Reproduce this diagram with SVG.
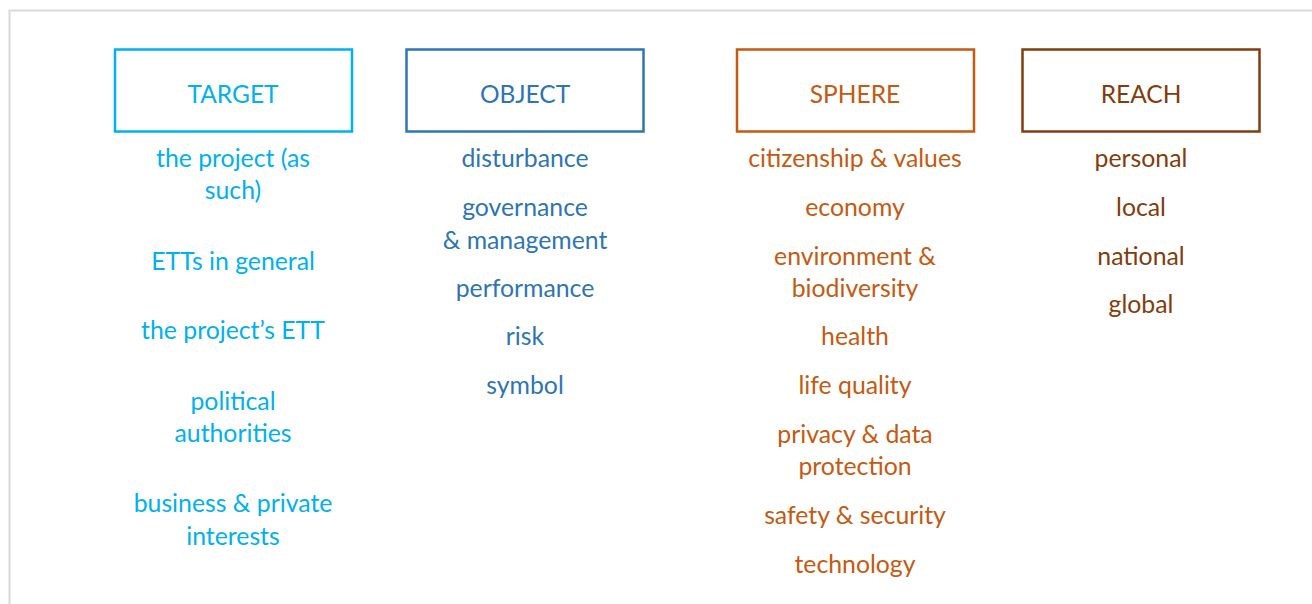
<svg xmlns="http://www.w3.org/2000/svg" width="1312" height="604" viewBox="0 0 1312 604">
<style>
text{font-family:Lato,"Open Sans","Liberation Sans",sans-serif;text-anchor:middle;font-size:24.8px}
.h{font-size:24.5px}
.box{fill:#fff;stroke-width:2.5}
.t{fill:#00B0F0}.o{fill:#2E75B6}.s{fill:#C55A11}.r{fill:#843C0C}
</style>
<rect x="0" y="0" width="1312" height="604" fill="#fff"/>
<path d="M9.5 604 V10.5 H1312" fill="none" stroke="#d9d9d9" stroke-width="2"/>
<g id="target">
<rect class="box" x="115" y="49.5" width="237" height="82" stroke="#00B0F0"/>
<text class="h t" x="233" y="103">TARGET</text>
<text class="t" x="233" y="167">the project (as</text>
<text class="t" x="233" y="199">such)</text>
<text class="t" x="233" y="270">ETTs in general</text>
<text class="t" x="233" y="339">the project’s ETT</text>
<text class="t" x="233" y="410">political</text>
<text class="t" x="233" y="442">authorities</text>
<text class="t" x="233" y="512">business &amp; private</text>
<text class="t" x="233" y="545">interests</text>
</g>
<g id="object">
<rect class="box" x="406.5" y="49.5" width="237" height="82" stroke="#2E75B6"/>
<text class="h o" x="525" y="103">OBJECT</text>
<text class="o" x="525" y="167">disturbance</text>
<text class="o" x="525" y="216">governance</text>
<text class="o" x="525" y="249">&amp; management</text>
<text class="o" x="525" y="297">performance</text>
<text class="o" x="525" y="345">risk</text>
<text class="o" x="525" y="394">symbol</text>
</g>
<g id="sphere">
<rect class="box" x="737" y="49.5" width="237" height="82" stroke="#C55A11"/>
<text class="h s" x="855" y="103">SPHERE</text>
<text class="s" x="855" y="167">citizenship &amp; values</text>
<text class="s" x="855" y="216">economy</text>
<text class="s" x="855" y="265">environment &amp;</text>
<text class="s" x="855" y="297">biodiversity</text>
<text class="s" x="855" y="345">health</text>
<text class="s" x="855" y="394">life quality</text>
<text class="s" x="855" y="443">privacy &amp; data</text>
<text class="s" x="855" y="475">protection</text>
<text class="s" x="855" y="524">safety &amp; security</text>
<text class="s" x="855" y="573">technology</text>
</g>
<g id="reach">
<rect class="box" x="1022.5" y="49.5" width="237" height="82" stroke="#843C0C"/>
<text class="h r" x="1141" y="103">REACH</text>
<text class="r" x="1141" y="167">personal</text>
<text class="r" x="1141" y="216">local</text>
<text class="r" x="1141" y="265">national</text>
<text class="r" x="1141" y="313">global</text>
</g>
<g id="connectors"></g>
</svg>
